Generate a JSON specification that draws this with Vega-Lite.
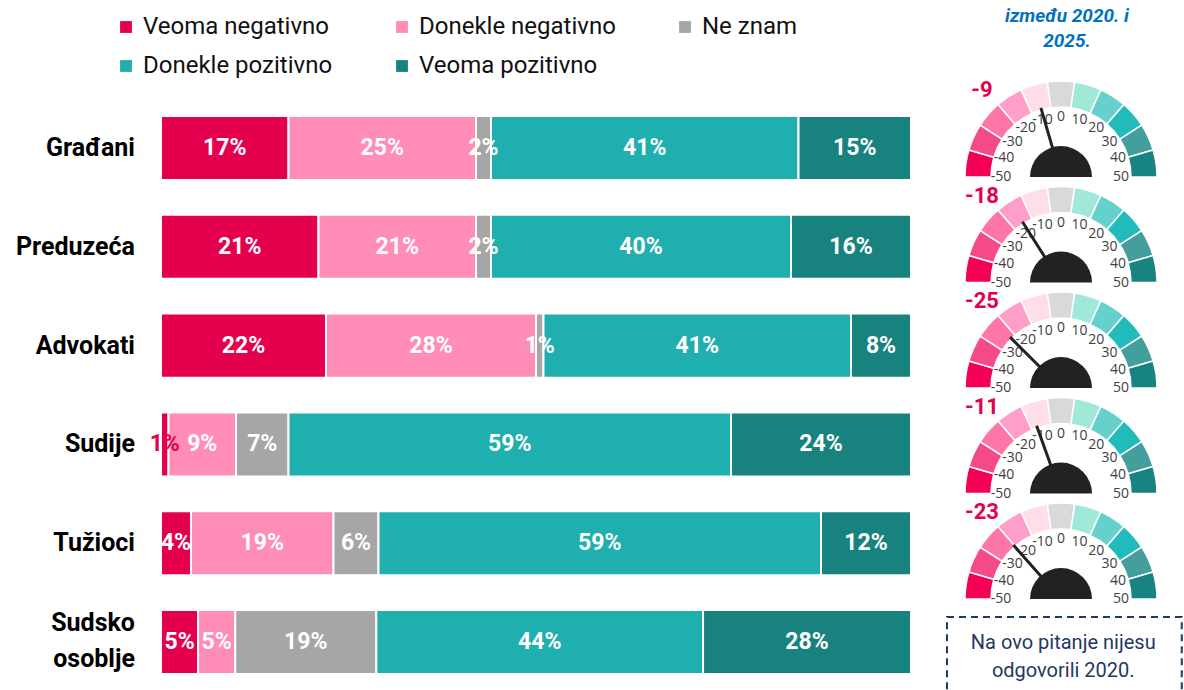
{
  "$schema": "https://vega.github.io/schema/vega-lite/v6.json",
  "width": 1184,
  "height": 690,
  "padding": 0,
  "autosize": {"type": "none"},
  "background": "white",
  "config": {"view": {"stroke": null}, "font": "Roboto"},
  "datasets": {
    "bars": [
      {"g": "Građani", "k": "Veoma negativno", "o": 1, "v": 0.17},
      {"g": "Građani", "k": "Donekle negativno", "o": 2, "v": 0.25},
      {"g": "Građani", "k": "Ne znam", "o": 3, "v": 0.02},
      {"g": "Građani", "k": "Donekle pozitivno", "o": 4, "v": 0.41},
      {"g": "Građani", "k": "Veoma pozitivno", "o": 5, "v": 0.15},
      {"g": "Preduzeća", "k": "Veoma negativno", "o": 1, "v": 0.21},
      {"g": "Preduzeća", "k": "Donekle negativno", "o": 2, "v": 0.21},
      {"g": "Preduzeća", "k": "Ne znam", "o": 3, "v": 0.02},
      {"g": "Preduzeća", "k": "Donekle pozitivno", "o": 4, "v": 0.40},
      {"g": "Preduzeća", "k": "Veoma pozitivno", "o": 5, "v": 0.16},
      {"g": "Advokati", "k": "Veoma negativno", "o": 1, "v": 0.22},
      {"g": "Advokati", "k": "Donekle negativno", "o": 2, "v": 0.28},
      {"g": "Advokati", "k": "Ne znam", "o": 3, "v": 0.01},
      {"g": "Advokati", "k": "Donekle pozitivno", "o": 4, "v": 0.41},
      {"g": "Advokati", "k": "Veoma pozitivno", "o": 5, "v": 0.08},
      {"g": "Sudije", "k": "Veoma negativno", "o": 1, "v": 0.01},
      {"g": "Sudije", "k": "Donekle negativno", "o": 2, "v": 0.09},
      {"g": "Sudije", "k": "Ne znam", "o": 3, "v": 0.07},
      {"g": "Sudije", "k": "Donekle pozitivno", "o": 4, "v": 0.59},
      {"g": "Sudije", "k": "Veoma pozitivno", "o": 5, "v": 0.24},
      {"g": "Tužioci", "k": "Veoma negativno", "o": 1, "v": 0.04},
      {"g": "Tužioci", "k": "Donekle negativno", "o": 2, "v": 0.19},
      {"g": "Tužioci", "k": "Ne znam", "o": 3, "v": 0.06},
      {"g": "Tužioci", "k": "Donekle pozitivno", "o": 4, "v": 0.59},
      {"g": "Tužioci", "k": "Veoma pozitivno", "o": 5, "v": 0.12},
      {"g": "Sudsko osoblje", "k": "Veoma negativno", "o": 1, "v": 0.05},
      {"g": "Sudsko osoblje", "k": "Donekle negativno", "o": 2, "v": 0.05},
      {"g": "Sudsko osoblje", "k": "Ne znam", "o": 3, "v": 0.19},
      {"g": "Sudsko osoblje", "k": "Donekle pozitivno", "o": 4, "v": 0.44},
      {"g": "Sudsko osoblje", "k": "Veoma pozitivno", "o": 5, "v": 0.28}
    ],
    "segs": [
      {"g":0,"k":0,"lo":-50,"hi":-40.91},{"g":0,"k":1,"lo":-40.91,"hi":-31.82},{"g":0,"k":2,"lo":-31.82,"hi":-22.73},{"g":0,"k":3,"lo":-22.73,"hi":-13.64},{"g":0,"k":4,"lo":-13.64,"hi":-4.55},{"g":0,"k":5,"lo":-4.55,"hi":4.55},{"g":0,"k":6,"lo":4.55,"hi":13.64},{"g":0,"k":7,"lo":13.64,"hi":22.73},{"g":0,"k":8,"lo":22.73,"hi":31.82},{"g":0,"k":9,"lo":31.82,"hi":40.91},{"g":0,"k":10,"lo":40.91,"hi":50},
      {"g":1,"k":0,"lo":-50,"hi":-40.91},{"g":1,"k":1,"lo":-40.91,"hi":-31.82},{"g":1,"k":2,"lo":-31.82,"hi":-22.73},{"g":1,"k":3,"lo":-22.73,"hi":-13.64},{"g":1,"k":4,"lo":-13.64,"hi":-4.55},{"g":1,"k":5,"lo":-4.55,"hi":4.55},{"g":1,"k":6,"lo":4.55,"hi":13.64},{"g":1,"k":7,"lo":13.64,"hi":22.73},{"g":1,"k":8,"lo":22.73,"hi":31.82},{"g":1,"k":9,"lo":31.82,"hi":40.91},{"g":1,"k":10,"lo":40.91,"hi":50},
      {"g":2,"k":0,"lo":-50,"hi":-40.91},{"g":2,"k":1,"lo":-40.91,"hi":-31.82},{"g":2,"k":2,"lo":-31.82,"hi":-22.73},{"g":2,"k":3,"lo":-22.73,"hi":-13.64},{"g":2,"k":4,"lo":-13.64,"hi":-4.55},{"g":2,"k":5,"lo":-4.55,"hi":4.55},{"g":2,"k":6,"lo":4.55,"hi":13.64},{"g":2,"k":7,"lo":13.64,"hi":22.73},{"g":2,"k":8,"lo":22.73,"hi":31.82},{"g":2,"k":9,"lo":31.82,"hi":40.91},{"g":2,"k":10,"lo":40.91,"hi":50},
      {"g":3,"k":0,"lo":-50,"hi":-40.91},{"g":3,"k":1,"lo":-40.91,"hi":-31.82},{"g":3,"k":2,"lo":-31.82,"hi":-22.73},{"g":3,"k":3,"lo":-22.73,"hi":-13.64},{"g":3,"k":4,"lo":-13.64,"hi":-4.55},{"g":3,"k":5,"lo":-4.55,"hi":4.55},{"g":3,"k":6,"lo":4.55,"hi":13.64},{"g":3,"k":7,"lo":13.64,"hi":22.73},{"g":3,"k":8,"lo":22.73,"hi":31.82},{"g":3,"k":9,"lo":31.82,"hi":40.91},{"g":3,"k":10,"lo":40.91,"hi":50},
      {"g":4,"k":0,"lo":-50,"hi":-40.91},{"g":4,"k":1,"lo":-40.91,"hi":-31.82},{"g":4,"k":2,"lo":-31.82,"hi":-22.73},{"g":4,"k":3,"lo":-22.73,"hi":-13.64},{"g":4,"k":4,"lo":-13.64,"hi":-4.55},{"g":4,"k":5,"lo":-4.55,"hi":4.55},{"g":4,"k":6,"lo":4.55,"hi":13.64},{"g":4,"k":7,"lo":13.64,"hi":22.73},{"g":4,"k":8,"lo":22.73,"hi":31.82},{"g":4,"k":9,"lo":31.82,"hi":40.91},{"g":4,"k":10,"lo":40.91,"hi":50}
    ],
    "gticks": [
      {"g": 0, "t": [-50,-40,-30,-20,-10,0,10,20,30,40,50]},
      {"g": 1, "t": [-50,-40,-30,-20,-10,0,10,20,30,40,50]},
      {"g": 2, "t": [-50,-40,-30,-20,-10,0,10,20,30,40,50]},
      {"g": 3, "t": [-50,-40,-30,-20,-10,0,10,20,30,40,50]},
      {"g": 4, "t": [-50,-40,-30,-20,-10,0,10,20,30,40,50]}
    ],
    "gvals": [
      {"g": 0, "v": -9},
      {"g": 1, "v": -18},
      {"g": 2, "v": -25},
      {"g": 3, "v": -11},
      {"g": 4, "v": -23}
    ],
    "notes": [
      {"id": "title", "text": "između 2020. i\n2025."},
      {"id": "box", "text": "Na ovo pitanje nijesu\nodgovorili 2020."}
    ]
  },
  "resolve": {"scale": {"y": "independent", "color": "independent"}},
  "layer": [
    {
      "data": {"name": "bars"},
      "encoding": {
        "y": {
          "field": "g",
          "type": "nominal",
          "sort": null,
          "scale": {
            "domain": ["Građani", "Preduzeća", "Advokati", "Sudije", "Tužioci", "Sudsko osoblje"],
            "paddingInner": 0.352,
            "paddingOuter": 0.668,
            "align": 0.879
          },
          "axis": null
        }
      },
      "layer": [
        {
          "mark": {"type": "bar", "stroke": "white", "strokeWidth": 2},
          "encoding": {
            "x": {
              "field": "v",
              "type": "quantitative",
              "stack": "normalize",
              "scale": {"domain": [-0.214667, 1.364], "nice": false, "zero": false},
              "axis": null
            },
            "color": {
              "field": "k",
              "type": "nominal",
              "scale": {
                "domain": ["Veoma negativno", "Donekle negativno", "Ne znam", "Donekle pozitivno", "Veoma pozitivno"],
                "range": ["#E4004F", "#FF8DB8", "#A6A6A6", "#1FAFAF", "#17827E"]
              },
              "legend": {
                "orient": "none",
                "legendX": 114,
                "legendY": 15,
                "direction": "horizontal",
                "columns": 3,
                "title": null,
                "symbolType": "square",
                "symbolSize": 140,
                "symbolStrokeWidth": 0,
                "labelFontSize": 24,
                "labelFont": "Roboto",
                "labelColor": "#111111",
                "labelLimit": 0,
                "labelOffset": 5,
                "rowPadding": 15,
                "columnPadding": 57,
                "padding": 0
              }
            },
            "order": {"field": "o"}
          }
        },
        {
          "mark": {"type": "text", "fontSize": 23, "fontWeight": "bold", "baseline": "middle", "align": "center", "font": "Roboto"},
          "encoding": {
            "x": {"field": "v", "type": "quantitative", "stack": "normalize", "bandPosition": 0.5},
            "order": {"field": "o"},
            "text": {"field": "v", "type": "quantitative", "format": ".0%"},
            "color": {
              "condition": {"test": "datum.k == 'Veoma negativno' && datum.v < 0.02", "value": "#E4004F"},
              "value": "white"
            }
          }
        },
        {
          "transform": [{"filter": "datum.o == 1 && datum.g != 'Sudsko osoblje'"}],
          "mark": {"type": "text", "fontSize": 25, "fontWeight": "bold", "align": "right", "baseline": "middle", "color": "#000000", "font": "Roboto"},
          "encoding": {
            "x": {"datum": -0.0347, "type": "quantitative"},
            "text": {"field": "g"}
          }
        },
        {
          "transform": [{"filter": "datum.o == 1 && datum.g == 'Sudsko osoblje'"}],
          "mark": {"type": "text", "fontSize": 25, "fontWeight": "bold", "align": "right", "baseline": "middle", "lineBreak": " ", "lineHeight": 36, "dy": -19, "color": "#000000", "font": "Roboto"},
          "encoding": {
            "x": {"datum": -0.0347, "type": "quantitative"},
            "text": {"field": "g"}
          }
        }
      ]
    },
    {
      "layer": [
        {
          "data": {"name": "segs"},
          "mark": {"type": "arc", "innerRadius": 70, "outerRadius": 96, "stroke": "white", "strokeWidth": 1.5},
          "encoding": {
            "x": {"datum": 1.2, "type": "quantitative"},
            "y": {
              "field": "g",
              "type": "quantitative",
              "stack": null,
              "scale": {"domain": [-1.678, 4.862], "reverse": true, "nice": false, "zero": false},
              "axis": null
            },
            "theta": {"field": "lo", "type": "quantitative", "stack": null, "scale": {"domain": [-50, 50], "range": [-1.5708, 1.5708]}},
            "theta2": {"field": "hi"},
            "color": {
              "field": "k",
              "type": "ordinal",
              "scale": {
                "domain": [0,1,2,3,4,5,6,7,8,9,10],
                "range": ["#F50057", "#F54A8A", "#FF75A8", "#FF9EC8", "#FFDDE9", "#D9D9D9", "#A0E8D8", "#66D1CC", "#22BBBB", "#449E9B", "#178481"]
              },
              "legend": null
            }
          }
        },
        {
          "data": {"name": "gticks"},
          "transform": [{"flatten": ["t"]}],
          "mark": {"type": "text", "radius": 60, "fontSize": 14, "font": "Open Sans", "color": "#404040", "baseline": "middle", "align": "center"},
          "encoding": {
            "x": {"datum": 1.2, "type": "quantitative"},
            "y": {"field": "g", "type": "quantitative", "stack": null},
            "theta": {"field": "t", "type": "quantitative"},
            "text": {"field": "t", "type": "nominal"}
          }
        },
        {
          "data": {"name": "gvals"},
          "mark": {"type": "arc", "innerRadius": 28, "outerRadius": 72, "stroke": "#222222", "strokeWidth": 3, "fill": "#222222"},
          "encoding": {
            "x": {"datum": 1.2, "type": "quantitative"},
            "y": {"field": "g", "type": "quantitative", "stack": null},
            "theta": {"field": "v", "type": "quantitative", "stack": null},
            "theta2": {"field": "v"}
          }
        },
        {
          "data": {"name": "gvals"},
          "mark": {"type": "arc", "innerRadius": 0, "outerRadius": 31, "color": "#222222"},
          "encoding": {
            "x": {"datum": 1.2, "type": "quantitative"},
            "y": {"field": "g", "type": "quantitative", "stack": null},
            "theta": {"datum": -50, "type": "quantitative", "stack": null},
            "theta2": {"datum": 50}
          }
        },
        {
          "data": {"name": "gvals"},
          "mark": {"type": "text", "dx": -79, "dy": -87, "fontSize": 22, "fontWeight": "bold", "color": "#E4004F", "baseline": "middle", "align": "center", "font": "Roboto"},
          "encoding": {
            "x": {"datum": 1.2, "type": "quantitative"},
            "y": {"field": "g", "type": "quantitative", "stack": null},
            "text": {"field": "v", "type": "nominal"}
          }
        },
        {
          "data": {"name": "notes"},
          "transform": [{"filter": "datum.id == 'title'"}],
          "mark": {"type": "text", "fontSize": 19, "fontWeight": "bold", "fontStyle": "italic", "color": "#0070C0", "lineBreak": "\n", "lineHeight": 25, "baseline": "middle", "align": "center", "font": "Roboto"},
          "encoding": {
            "x": {"datum": 1.208, "type": "quantitative"},
            "y": {"datum": -1.526, "type": "quantitative"},
            "text": {"field": "text", "type": "nominal"}
          }
        },
        {
          "data": {"name": "notes"},
          "transform": [{"filter": "datum.id == 'box'"}],
          "mark": {"type": "rect", "fillOpacity": 0, "stroke": "#1F3864", "strokeWidth": 2, "strokeDash": [7, 5]},
          "encoding": {
            "x": {"datum": 1.048, "type": "quantitative"},
            "x2": {"datum": 1.361},
            "y": {"datum": 4.17, "type": "quantitative"},
            "y2": {"datum": 4.96}
          }
        },
        {
          "data": {"name": "notes"},
          "transform": [{"filter": "datum.id == 'box'"}],
          "mark": {"type": "text", "fontSize": 20, "color": "#1F3864", "lineBreak": "\n", "lineHeight": 28, "baseline": "middle", "align": "center", "font": "Roboto"},
          "encoding": {
            "x": {"datum": 1.203, "type": "quantitative"},
            "y": {"datum": 4.417, "type": "quantitative"},
            "text": {"field": "text", "type": "nominal"}
          }
        }
      ]
    }
  ]
}
